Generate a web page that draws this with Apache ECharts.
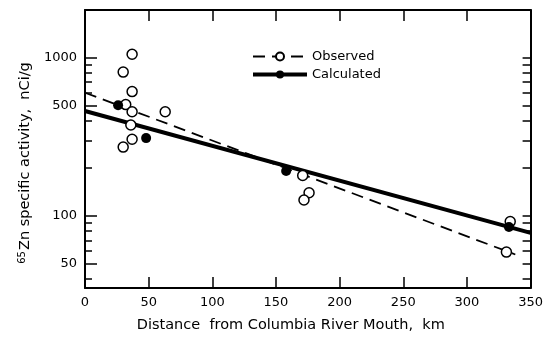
<!DOCTYPE html>
<html>
<head>
<meta charset="utf-8">
<script src="https://cdn.jsdelivr.net/npm/echarts@6/dist/echarts.min.js"></script>
<style>
	html, body { margin: 0; padding: 0; background: #fff; }
	#chartArea { width: 546px; height: 345px; }
</style>
</head>
<body>
<div id="chartArea"></div>
<script>
// observed samples (open circles)
var obsKm  = [37, 30, 37, 32, 37, 63, 36, 37, 30, 171, 176, 172, 334, 331];
var obsVal = [1050, 810, 610, 505, 455, 455, 375, 305, 272, 180, 140, 126, 92, 59];
// calculated samples (filled circles)
var calcKm  = [26, 48, 158, 333];
var calcVal = [500, 310, 192, 85];
// fitted lines, end points
var obsFitKm  = [0, 338];
var obsFitVal = [600, 57];
var calcFitKm  = [0, 350];
var calcFitVal = [460, 78];
// axis ticks
var yMajor = [50, 100, 500, 1000];
var yMinor = [40, 60, 70, 80, 90, 200, 300, 400, 600, 700, 800, 900];
var yMin = 35, yMax = 2000;

var FONT = 'DejaVu Sans';

function lg(v) { return Math.log10(v); }
function pairs(xs, vs) {
	var out = [];
	for (var i = 0; i < xs.length; i++) {
		out.push([xs[i], lg(vs[i])]);
	}
	return out;
}

var myChart = echarts.init(document.getElementById('chartArea'), null, { renderer: 'canvas' });

var axisLineStyle = { show: true, lineStyle: { color: '#000', width: 2 } };
var yAll = yMajor.concat(yMinor).map(lg);

var option = {
	animation: false,
	backgroundColor: '#fff',
	grid: { left: 85, right: 13, top: 10, bottom: 57 },
	legend: {
		data: [
			{ name: 'Observed', lineStyle: { width: 1.8 } },
			{ name: 'Calculated', lineStyle: { width: 4 } }
		],
		orient: 'vertical',
		left: 246,
		top: 45,
		itemWidth: 54,
		itemHeight: 10,
		itemGap: 5,
		textStyle: { color: '#000', fontSize: 13, fontFamily: FONT }
	},
	xAxis: [{
		type: 'value',
		min: 0,
		max: 350,
		interval: 50,
		position: 'bottom',
		axisLine: axisLineStyle,
		axisTick: { inside: true, length: 11, lineStyle: { color: '#000', width: 1.5 } },
		axisLabel: { color: '#000', fontSize: 13, fontFamily: FONT, margin: 8 },
		splitLine: { show: false },
		name: 'Distance  from Columbia River Mouth,  km',
		nameLocation: 'middle',
		nameGap: 30,
		nameTextStyle: { color: '#000', fontSize: 14.5, fontFamily: FONT, padding: [0, 34, 0, 0] }
	}, {
		type: 'value',
		min: 0,
		max: 350,
		interval: 50,
		position: 'top',
		axisLine: axisLineStyle,
		axisTick: { inside: true, length: 11, lineStyle: { color: '#000', width: 1.5 } },
		axisLabel: { show: false },
		splitLine: { show: false }
	}],
	yAxis: [{
		type: 'value',
		min: lg(yMin),
		max: lg(yMax),
		position: 'left',
		axisLine: axisLineStyle,
		axisTick: { inside: true, length: 12, customValues: yMajor.map(lg), lineStyle: { color: '#000', width: 1.5 } },
		axisLabel: {
			customValues: yMajor.map(lg),
			color: '#000', fontSize: 13, fontFamily: FONT, margin: 8,
			formatter: function(v) { return String(Math.round(Math.pow(10, v))); }
		},
		splitLine: { show: false },
		name: '{sup|65}Zn specific activity,  nCi/g',
		nameLocation: 'middle',
		nameGap: 50,
		nameTextStyle: {
			color: '#000', fontSize: 14.5, fontFamily: FONT,
			padding: [0, 28, 0, 0],
			rich: {
				sup: { fontSize: 10, fontFamily: FONT, color: '#000', verticalAlign: 'top', padding: [0, 1, 7, 0] }
			}
		}
	}, {
		type: 'value',
		min: lg(yMin),
		max: lg(yMax),
		position: 'left',
		axisLine: { show: false },
		axisTick: { inside: true, length: 7, customValues: yMinor.map(lg), lineStyle: { color: '#000', width: 1.5 } },
		axisLabel: { show: false },
		splitLine: { show: false }
	}, {
		type: 'value',
		min: lg(yMin),
		max: lg(yMax),
		position: 'right',
		axisLine: axisLineStyle,
		axisTick: { inside: true, length: 8, customValues: yAll, lineStyle: { color: '#000', width: 1.5 } },
		axisLabel: { show: false },
		splitLine: { show: false }
	}],
	series: [{
		name: 'Observed',
		type: 'line',
		data: pairs(obsFitKm, obsFitVal),
		showSymbol: false,
		symbol: 'emptyCircle',
		symbolSize: 9,
		itemStyle: { color: '#000', borderWidth: 1.5 },
		lineStyle: { color: '#000', width: 1.8, type: [12, 7] },
		z: 2
	}, {
		name: 'Calculated',
		type: 'line',
		data: pairs(calcFitKm, calcFitVal),
		showSymbol: false,
		symbol: 'circle',
		symbolSize: 9,
		itemStyle: { color: '#000' },
		lineStyle: { color: '#000', width: 4 },
		z: 2
	}, {
		name: 'Observed',
		type: 'scatter',
		data: pairs(obsKm, obsVal),
		symbol: 'circle',
		symbolSize: 10,
		itemStyle: { color: '#fff', borderColor: '#000', borderWidth: 1.5, opacity: 1 },
		z: 3
	}, {
		name: 'Calculated',
		type: 'scatter',
		data: pairs(calcKm, calcVal),
		symbol: 'circle',
		symbolSize: 10,
		itemStyle: { color: '#000', opacity: 1 },
		z: 4
	}]
};
myChart.setOption(option);
</script>
</body>
</html>
